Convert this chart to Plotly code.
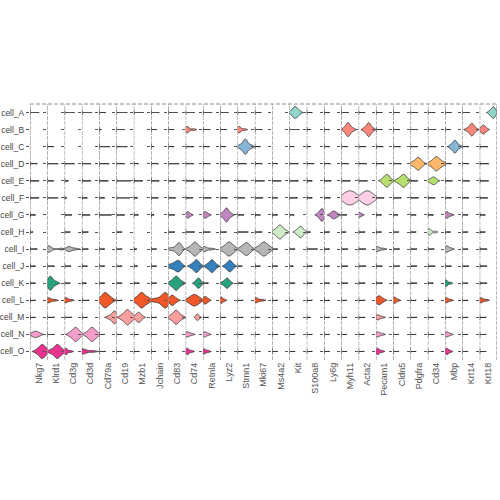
"""Stacked violin plot of marker genes across cell types."""

import plotly.graph_objects as go
from plotly.subplots import make_subplots

genes = [
    "Nkg7", "Klrd1", "Cd3g", "Cd3d", "Cd79a", "Cd19", "Mzb1", "Jchain",
    "Cd83", "Cd74", "Retnla", "Lyz2", "Stmn1", "Mki67", "Ms4a2", "Kit",
    "S100a8", "Ly6g", "Myh11", "Acta2", "Pecam1", "Cldn5", "Pdgfra", "Cd34",
    "Mbp", "Krt14", "Krt18",
]

cells = [
    "cell_A", "cell_B", "cell_C", "cell_D", "cell_E", "cell_F", "cell_G", "cell_H",
    "cell_I", "cell_J", "cell_K", "cell_L", "cell_M", "cell_N", "cell_O",
]

cell_colors = [
    "#8dd3c7", "#fb8072", "#80b1d3", "#fdb462", "#b3de69", "#fccde5", "#bc80bd",
    "#ccebc5", "#b3b3b3", "#2b7bba", "#1b9e77", "#f04e1e", "#fb9a99", "#f49ac9",
    "#e7298a",
]

# max expression reached by the few non-zero cells of each (cell type, gene)
# pair that has no real expression (scaled 0..1); 0 = nothing drawn
background_tail = [
    [0.5, 0, 0.55, 0.55, 0.35, 0.6, 0.55, 0.45, 0.5, 0.5, 0.5, 0.45, 0.5, 0.35, 0, 0, 0.3, 0.3, 0.4, 0.35, 0.35, 0.35, 0.4, 0.4, 0.35, 0.4, 0],
    [0, 0, 0, 0, 0.1, 0.45, 0, 0.3, 0.3, 0, 0.4, 0.35, 0, 0.4, 0, 0.55, 0.2, 0.3, 0, 0, 0.35, 0.35, 0.4, 0.45, 0.3, 0, 0],
    [0, 0.35, 0, 0, 0.6, 0.6, 0, 0.15, 0.3, 0.45, 0.35, 0.3, 0, 0.3, 0, 0.25, 0.2, 0.3, 0.35, 0.4, 0.4, 0.4, 0.4, 0.45, 0, 0.35, 0.45],
    [0.4, 0.6, 0.55, 0.5, 0.55, 0.45, 0.25, 0.4, 0.6, 0.45, 0.4, 0.5, 0.5, 0.4, 0.3, 0.5, 0.4, 0.35, 0.4, 0.45, 0.45, 0.45, 0, 0, 0.35, 0.35, 0.5],
    [0.5, 0.35, 0.2, 0.5, 0.5, 0.8, 0.5, 0.45, 0.4, 0.5, 0.5, 0.5, 0.55, 0.55, 0.5, 0.5, 0.3, 0.4, 0.5, 0.5, 0, 0, 0.4, 0, 0.4, 0.4, 0.5],
    [0.5, 0.6, 0.1, 0.3, 0.3, 0.75, 0.2, 0.4, 0.4, 0.4, 0.45, 0.4, 0.4, 0.45, 0.3, 0.45, 0.3, 0.35, 0, 0, 0.45, 0.45, 0.45, 0.4, 0.35, 0.35, 0.45],
    [0.3, 0, 0.4, 0.45, 0.7, 0.45, 0.25, 0.15, 0.35, 0, 0, 0, 0.35, 0.3, 0.3, 0.25, 0, 0, 0.3, 0, 0.3, 0.25, 0.3, 0.3, 0, 0.3, 0.3],
    [0.15, 0, 0.3, 0.35, 0, 0.3, 0, 0, 0.35, 0.5, 0.4, 0.35, 0.6, 0.4, 0, 0, 0.2, 0.3, 0.25, 0.35, 0.3, 0.3, 0.3, 0, 0.3, 0.3, 0.3],
    [0.4, 0, 0, 0.35, 0.3, 0.3, 0.15, 0.3, 0, 0, 0, 0, 0, 0, 0.3, 0.3, 0.6, 0.3, 0.35, 0.4, 0, 0.35, 0.35, 0.35, 0, 0.3, 0.4],
    [0.3, 0.4, 0.35, 0.3, 0.3, 0.3, 0.2, 0.3, 0, 0, 0, 0, 0.25, 0.3, 0.3, 0.2, 0.3, 0.3, 0.35, 0.4, 0.35, 0.35, 0.35, 0.4, 0.35, 0.35, 0.4],
    [0.3, 0, 0.3, 0.25, 0.3, 0.3, 0.3, 0.3, 0, 0, 0.3, 0, 0.3, 0.2, 0.25, 0.3, 0.3, 0.3, 0.35, 0.35, 0.35, 0.3, 0.35, 0.3, 0, 0.3, 0.4],
    [0.3, 0, 0, 0.4, 0, 0.3, 0, 0, 0, 0, 0, 0, 0.3, 0, 0.3, 0.2, 0.3, 0.3, 0.3, 0.35, 0, 0, 0.3, 0.3, 0, 0.3, 0],
    [0.3, 0.4, 0.4, 0.3, 0, 0, 0, 0.3, 0, 0, 0.3, 0.3, 0.3, 0.25, 0.3, 0.25, 0.2, 0.3, 0.3, 0.35, 0, 0.3, 0.35, 0.3, 0.35, 0.3, 0.35],
    [0, 0.4, 0, 0, 0.3, 0.3, 0.25, 0.3, 0.3, 0, 0, 0.3, 0.3, 0.25, 0.3, 0.3, 0.3, 0.3, 0.3, 0.3, 0, 0.3, 0.3, 0.35, 0, 0.3, 0.35],
    [0, 0, 0, 0, 0.35, 0.3, 0.3, 0.25, 0.2, 0, 0, 0.3, 0.3, 0.3, 0.3, 0.3, 0.3, 0.3, 0.3, 0.3, 0, 0.3, 0.3, 0.3, 0, 0.3, 0.35],
]

# scaled expression of the expressing cells, per cell type and gene
expressed = {
    "cell_A": {
        "Kit": [0.12, 0.2, 0.26, 0.3, 0.34, 0.38, 0.42, 0.5, 0.58],
        "Krt18": [0.55, 0.65, 0.7, 0.74, 0.78, 0.8, 0.83, 0.87, 0.92],
    },
    "cell_B": {
        "Cd74": [0.03, 0.06, 0.1, 0.15, 0.45],
        "Stmn1": [0.03, 0.07, 0.1, 0.16, 0.4],
        "Myh11": [0.15, 0.25, 0.3, 0.35, 0.38, 0.4, 0.42, 0.45, 0.5, 0.58, 0.7],
        "Acta2": [0.3, 0.4, 0.48, 0.53, 0.56, 0.58, 0.6, 0.63, 0.67, 0.74, 0.85],
        "Krt14": [0.25, 0.38, 0.45, 0.5, 0.53, 0.55, 0.58, 0.62, 0.68, 0.8],
        "Krt18": [0.05, 0.12, 0.18, 0.22, 0.25, 0.3, 0.4],
    },
    "cell_C": {
        "Stmn1": [0.1, 0.22, 0.32, 0.38, 0.42, 0.44, 0.45, 0.48, 0.52, 0.58, 0.68, 0.82],
        "Mbp": [0.28, 0.4, 0.48, 0.52, 0.55, 0.58, 0.61, 0.65, 0.72, 0.85],
    },
    "cell_D": {
        "Pdgfra": [0.08, 0.2, 0.3, 0.38, 0.42, 0.45, 0.48, 0.52, 0.6, 0.72],
        "Cd34": [0.1, 0.25, 0.35, 0.42, 0.47, 0.5, 0.53, 0.58, 0.65, 0.78, 0.88],
    },
    "cell_E": {
        "Pecam1": [0.35, 0.45, 0.52, 0.58, 0.62, 0.65, 0.68, 0.72, 0.78, 0.9],
        "Cldn5": [0.22, 0.35, 0.45, 0.52, 0.56, 0.6, 0.63, 0.68, 0.75, 0.85],
        "Cd34": [0.1, 0.22, 0.3, 0.35, 0.4, 0.5],
    },
    "cell_F": {
        "Myh11": [0.08, 0.18, 0.28, 0.36, 0.44, 0.5, 0.56, 0.64, 0.72, 0.82, 0.92],
        "Acta2": [0.1, 0.2, 0.3, 0.38, 0.45, 0.5, 0.55, 0.62, 0.7, 0.8, 0.9],
    },
    "cell_G": {
        "Cd74": [0.05, 0.1, 0.14, 0.18, 0.3],
        "Retnla": [0.05, 0.1, 0.15, 0.2, 0.32],
        "Lyz2": [0.08, 0.18, 0.26, 0.31, 0.34, 0.36, 0.38, 0.41, 0.46, 0.54, 0.65],
        "S100a8": [0.62, 0.72, 0.78, 0.82, 0.85, 0.87, 0.9, 0.93, 0.97, 1.0],
        "Ly6g": [0.38, 0.48, 0.55, 0.6, 0.66, 0.78],
        "Acta2": [0.02, 0.05, 0.08, 0.2],
        "Mbp": [0.04, 0.09, 0.13, 0.18, 0.35],
    },
    "cell_H": {
        "Ms4a2": [0.1, 0.22, 0.32, 0.38, 0.42, 0.45, 0.48, 0.52, 0.58, 0.68, 0.82],
        "Kit": [0.38, 0.48, 0.55, 0.6, 0.64, 0.67, 0.7, 0.75, 0.85],
        "Cd34": [0.03, 0.07, 0.1, 0.15, 0.4],
    },
    "cell_I": {
        "Klrd1": [0.03, 0.06, 0.1, 0.14, 0.8],
        "Cd3g": [0.2, 0.25, 0.3, 0.6],
        "Cd83": [0.1, 0.3, 0.45, 0.52, 0.57, 0.6, 0.63, 0.66, 0.7, 0.78],
        "Cd74": [0.15, 0.3, 0.4, 0.46, 0.5, 0.53, 0.56, 0.6, 0.66, 0.75, 0.88],
        "Retnla": [0.03, 0.07, 0.1, 0.45],
        "Lyz2": [0.1, 0.25, 0.35, 0.42, 0.46, 0.5, 0.54, 0.58, 0.65, 0.75, 0.85],
        "Stmn1": [0.15, 0.28, 0.38, 0.44, 0.48, 0.52, 0.56, 0.62, 0.7, 0.8],
        "Mki67": [0.1, 0.25, 0.36, 0.43, 0.48, 0.52, 0.56, 0.6, 0.68, 0.78, 0.9],
        "Pecam1": [0.03, 0.07, 0.1, 0.4],
        "Mbp": [0.03, 0.07, 0.12, 0.18, 0.35],
    },
    "cell_J": {
        "Cd83": [0.05, 0.2, 0.35, 0.45, 0.52, 0.56, 0.6, 0.64, 0.7],
        "Cd74": [0.3, 0.42, 0.5, 0.56, 0.6, 0.63, 0.66, 0.7, 0.76, 0.88],
        "Retnla": [0.2, 0.32, 0.4, 0.46, 0.5, 0.53, 0.56, 0.6, 0.68, 0.8],
        "Lyz2": [0.3, 0.4, 0.47, 0.52, 0.55, 0.58, 0.62, 0.68, 0.78],
    },
    "cell_K": {
        "Klrd1": [0.03, 0.08, 0.12, 0.15, 0.18, 0.2, 0.23, 0.27, 0.33, 0.42, 0.55],
        "Cd83": [0.1, 0.22, 0.32, 0.38, 0.42, 0.45, 0.48, 0.52, 0.58, 0.68, 0.8],
        "Cd74": [0.55, 0.63, 0.68, 0.72, 0.75, 0.78, 0.82, 0.9],
        "Lyz2": [0.12, 0.25, 0.32, 0.37, 0.4, 0.43, 0.48, 0.58],
        "Mbp": [0.02, 0.05, 0.08, 0.12, 0.3],
    },
    "cell_L": {
        "Klrd1": [0.03, 0.06, 0.1, 0.4],
        "Cd3g": [0.03, 0.06, 0.1, 0.35],
        "Cd79a": [0.05, 0.15, 0.22, 0.28, 0.32, 0.35, 0.38, 0.42, 0.48, 0.55, 0.65, 0.75],
        "Mzb1": [0.08, 0.2, 0.3, 0.37, 0.42, 0.45, 0.48, 0.52, 0.58, 0.66, 0.8, 0.88],
        "Jchain": [0.1, 0.3, 0.5, 0.62, 0.7, 0.75, 0.79, 0.82, 0.86, 0.9, 0.95, 1.0],
        "Cd83": [0.05, 0.12, 0.18, 0.22, 0.26, 0.3, 0.38, 0.5],
        "Cd74": [0.15, 0.28, 0.38, 0.45, 0.5, 0.55, 0.62, 0.72, 0.85],
        "Retnla": [0.02, 0.08, 0.12, 0.16, 0.22, 0.32],
        "Lyz2": [0.02, 0.05, 0.08, 0.12, 0.25],
        "Mki67": [0.02, 0.05, 0.08, 0.4],
        "Pecam1": [0.04, 0.1, 0.15, 0.2, 0.25, 0.32, 0.45],
        "Cldn5": [0.03, 0.06, 0.1, 0.14, 0.3],
        "Mbp": [0.03, 0.06, 0.1, 0.3],
        "Krt18": [0.03, 0.06, 0.1, 0.35],
    },
    "cell_M": {
        "Cd79a": [0.5, 0.65, 0.74, 0.8, 0.84, 0.87, 0.9, 0.93, 0.96, 1.0],
        "Cd19": [0.25, 0.38, 0.48, 0.55, 0.59, 0.62, 0.65, 0.68, 0.73, 0.8, 0.9, 0.98],
        "Mzb1": [0.05, 0.15, 0.22, 0.27, 0.3, 0.33, 0.38, 0.5],
        "Cd83": [0.1, 0.22, 0.32, 0.38, 0.42, 0.45, 0.48, 0.52, 0.58, 0.68, 0.82],
        "Cd74": [0.6, 0.65, 0.68, 0.72, 0.78],
        "Pecam1": [0.05, 0.1, 0.14, 0.35],
    },
    "cell_N": {
        "Nkg7": [0.12, 0.25, 0.33, 0.4, 0.55],
        "Cd3g": [0.28, 0.4, 0.5, 0.56, 0.6, 0.63, 0.66, 0.7, 0.76, 0.85, 0.92],
        "Cd3d": [0.22, 0.35, 0.45, 0.51, 0.55, 0.58, 0.61, 0.65, 0.72, 0.82, 0.88],
        "Cd74": [0.05, 0.1, 0.14, 0.35],
        "Retnla": [0.05, 0.1, 0.14, 0.3],
        "Pecam1": [0.05, 0.1, 0.14, 0.35],
        "Mbp": [0.05, 0.1, 0.14, 0.3],
    },
    "cell_O": {
        "Nkg7": [0.35, 0.48, 0.57, 0.63, 0.67, 0.7, 0.73, 0.77, 0.83, 0.92, 0.98],
        "Klrd1": [0.15, 0.3, 0.42, 0.5, 0.54, 0.57, 0.6, 0.64, 0.7, 0.8, 0.9],
        "Cd3g": [0.02, 0.06, 0.1, 0.14, 0.35],
        "Cd3d": [0.03, 0.06, 0.1, 0.6],
        "Cd74": [0.03, 0.08, 0.12, 0.16, 0.35],
        "Retnla": [0.03, 0.07, 0.1, 0.3],
        "Pecam1": [0.03, 0.08, 0.12, 0.16, 0.35],
        "Mbp": [0.03, 0.08, 0.12, 0.16, 0.3],
    },
}

FONT = "Arial, Liberation Sans, sans-serif"
BG_WIDTH = 0.3
N_ZEROS = 5
SEP_LINE = dict(color="#777777", width=1, dash="4px,1px")

fig = make_subplots(
    rows=1, cols=len(genes), shared_yaxes=True, horizontal_spacing=0
)

for gi, gene in enumerate(genes):
    for ci, cell in enumerate(cells):
        samples = expressed.get(cell, {}).get(gene)
        if samples is None:
            tail = background_tail[ci][gi]
            if tail <= 0:
                continue
            # mostly non-expressing cells plus a few low outliers
            samples = [0.0] * N_ZEROS + [tail]
            width = BG_WIDTH
        else:
            # thickness follows the number of expressing cells
            width = min(0.9, 0.075 * len(samples))
        fig.add_trace(
            go.Violin(
                x=samples,
                y=[cell] * len(samples),
                orientation="h",
                width=width,
                points=False,
                fillcolor=cell_colors[ci],
                opacity=0.95,
                line=dict(color="#2a2a2a", width=0.8),
                hoverinfo="skip",
            ),
            row=1,
            col=gi + 1,
        )

    fig.update_xaxes(
        range=[0, 1],
        automargin=False,
        showgrid=False,
        zeroline=False,
        showline=False,
        tickvals=[0.5],
        ticktext=[gene],
        tickangle=-90,
        ticks="",
        tickfont=dict(family=FONT, size=9, color="#555555"),
        row=1,
        col=gi + 1,
    )
    # column separators
    fig.add_vline(x=0, line=SEP_LINE, row=1, col=gi + 1)

fig.add_vline(x=1, line=SEP_LINE, row=1, col=len(genes))
fig.add_shape(
    type="line", xref="paper", yref="paper", x0=0, x1=1, y0=1, y1=1,
    line=dict(color="#909090", width=1, dash="4px,2px"),
)

fig.update_yaxes(
    categoryorder="array",
    categoryarray=cells,
    range=[len(cells) - 0.5, -0.5],
    automargin=False,
    showgrid=False,
    zeroline=False,
    ticks="outside",
    ticklen=3,
    tickcolor="#555555",
    tickfont=dict(family=FONT, size=8.5, color="#444444"),
)

fig.update_layout(
    width=500,
    height=500,
    margin=dict(l=30, r=3, t=104, b=140),
    violinmode="overlay",
    showlegend=False,
    plot_bgcolor="white",
    paper_bgcolor="white",
    font=dict(family=FONT),
)

# the page's default body margin would push the 500px figure off the window
fig.write_html(
    "out.html",
    config={"displayModeBar": False},
    post_script="document.body.style.margin = '0';",
)
